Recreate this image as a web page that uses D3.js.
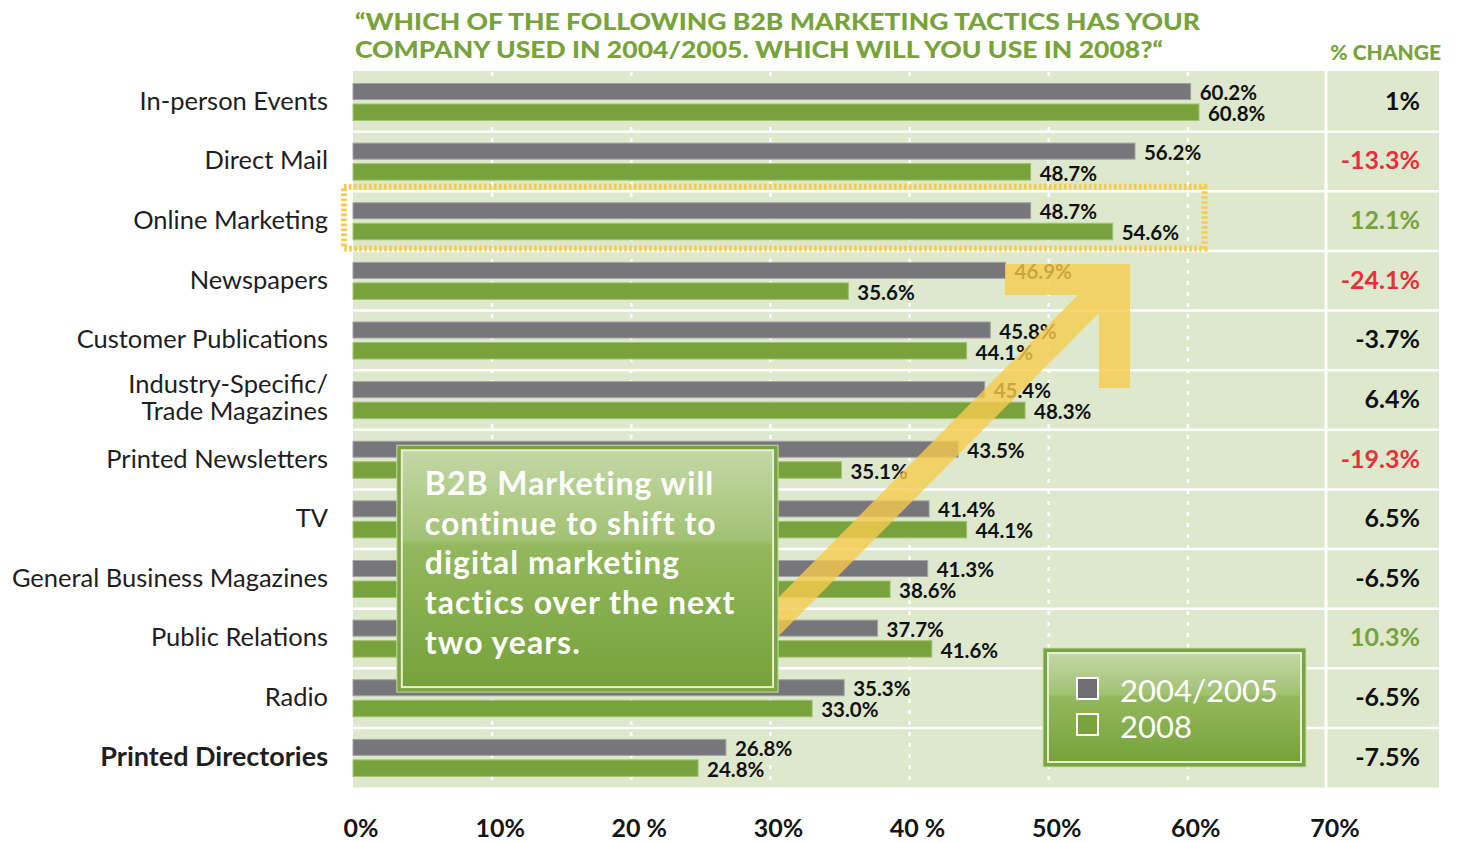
<!DOCTYPE html>
<html>
<head>
<meta charset="utf-8">
<script src="https://cdn.jsdelivr.net/npm/d3@7/dist/d3.min.js"></script>
<style>
  body { margin: 0; background: #fff; }
  svg { display: block; font-family: Lato, "Noto Sans", sans-serif; }
</style>
</head>
<body>
<div id="chart"></div>
<script>
// podaci
const categories = ["In-person Events", "Direct Mail", "Online Marketing", "Newspapers",
  "Customer Publications", "Industry-Specific/\nTrade Magazines", "Printed Newsletters", "TV",
  "General Business Magazines", "Public Relations", "Radio", "Printed Directories"];
const values2005 = [60.2, 56.2, 48.7, 46.9, 45.8, 45.4, 43.5, 41.4, 41.3, 37.7, 35.3, 26.8];
const values2008 = [60.8, 48.7, 54.6, 35.6, 44.1, 48.3, 35.1, 44.1, 38.6, 41.6, 33.0, 24.8];
const changeValues = [1, -13.3, 12.1, -24.1, -3.7, 6.4, -19.3, 6.5, -6.5, 10.3, -6.5, -7.5];
const changeLabels = ["1%", "-13.3%", "12.1%", "-24.1%", "-3.7%", "6.4%", "-19.3%", "6.5%", "-6.5%", "10.3%", "-6.5%", "-7.5%"];
const tickValues = [0, 10, 20, 30, 40, 50, 60, 70];
const tickLabels = ["0%", "10%", "20 %", "30%", "40 %", "50%", "60%", "70%"];
const seriesNames = ["2004/2005", "2008"];
const titleLines = ["\u201CWHICH OF THE FOLLOWING B2B MARKETING TACTICS HAS YOUR",
  "COMPANY USED IN 2004/2005. WHICH WILL YOU USE IN 2008?\u201C"];
const calloutLines = ["B2B Marketing will", "continue to shift to", "digital marketing",
  "tactics over the next", "two years."];

const rows = categories.map((c, i) => ({
  name: c, v1: values2005[i], v2: values2008[i], change: changeValues[i], changeLabel: changeLabels[i]
}));

// dimenzije
const dim = { width: 1457, height: 842, left: 353, right: 1327, colRight: 1439, top: 72, bottom: 787.5 };

const colors = { gray: "#76767b", grayEdge: "#a2a2a6", green: "#78a23c", greenEdge: "#a3c172",
  bg: "#dde8cd", title: "#78a33c", red: "#ea2e3b", yellow: "#f7cb4d" };

const svg = d3.select("#chart").append("svg")
  .attr("width", dim.width)
  .attr("height", dim.height);

const defs = svg.append("defs");
const grad = defs.append("linearGradient").attr("id", "boxGrad")
  .attr("x1", 0).attr("y1", 0).attr("x2", 0).attr("y2", 1);
grad.append("stop").attr("offset", "0%").attr("stop-color", "#c3d8a6");
grad.append("stop").attr("offset", "38%").attr("stop-color", "#a2c173");
grad.append("stop").attr("offset", "40%").attr("stop-color", "#93b85e");
grad.append("stop").attr("offset", "100%").attr("stop-color", "#76a23a");

// razmjeri
const x = d3.scaleLinear().domain([0, 70]).range([dim.left, dim.right]);
const y = d3.scaleBand().domain(categories).range([dim.top, dim.bottom]);
const rowPos = d3.scaleLinear().domain([0, categories.length]).range([dim.top, dim.bottom]);

// pozadina
svg.append("rect")
  .attr("x", dim.left).attr("y", dim.top - 1)
  .attr("width", dim.colRight - dim.left).attr("height", dim.bottom - dim.top + 1)
  .attr("fill", colors.bg);

// mreza
svg.append("g").selectAll("line")
  .data(tickValues.filter(t => t > 0 && t < 70))
  .join("line")
  .attr("x1", d => x(d)).attr("x2", d => x(d))
  .attr("y1", dim.top).attr("y2", dim.bottom)
  .attr("stroke", "#fff").attr("stroke-width", 2.5)
  .attr("stroke-dasharray", "4,7");

svg.append("g").selectAll("line")
  .data(d3.range(1, categories.length))
  .join("line")
  .attr("x1", dim.left).attr("x2", dim.colRight)
  .attr("y1", d => rowPos(d)).attr("y2", d => rowPos(d))
  .attr("stroke", "#fff").attr("stroke-width", 2.5);

svg.append("line")
  .attr("x1", x(70) - 1).attr("x2", x(70) - 1)
  .attr("y1", dim.top - 1).attr("y2", dim.bottom)
  .attr("stroke", "#fff").attr("stroke-width", 3);

// stupci
const bars = svg.append("g");
bars.selectAll(".b1").data(rows).join("rect")
  .attr("class", "b1")
  .attr("x", x(0)).attr("y", d => y(d.name) + 11.5)
  .attr("width", d => x(d.v1) - x(0)).attr("height", 16)
  .attr("fill", colors.gray).attr("stroke", colors.grayEdge).attr("stroke-width", 1);
bars.selectAll(".b2").data(rows).join("rect")
  .attr("class", "b2")
  .attr("x", x(0)).attr("y", d => y(d.name) + 32)
  .attr("width", d => x(d.v2) - x(0)).attr("height", 16.5)
  .attr("fill", colors.green).attr("stroke", colors.greenEdge).attr("stroke-width", 1);

// vrijednosti
const vals = svg.append("g")
  .style("font-size", "20.5px").style("font-weight", 700).attr("fill", "#111");
vals.selectAll(".l1").data(rows).join("text")
  .attr("x", d => x(d.v1) + 9).attr("y", d => y(d.name) + 28)
  .text(d => d.v1.toFixed(1) + "%");
vals.selectAll(".l2").data(rows).join("text")
  .attr("x", d => x(d.v2) + 9).attr("y", d => y(d.name) + 49)
  .text(d => d.v2.toFixed(1) + "%");

// oznaceni redak
const hl = "Online Marketing";
svg.append("rect")
  .attr("x", x(-0.65)).attr("y", y(hl) - 4.5)
  .attr("width", x(61.2) - x(-0.65)).attr("height", y.bandwidth() + 2)
  .attr("fill", "none").attr("stroke", colors.yellow)
  .attr("stroke-width", 6).attr("stroke-dasharray", "2.6,2.4");

// kategorije
const cats = svg.append("g").attr("fill", "#1e1e1e").attr("text-anchor", "end");
rows.forEach((d, i) => {
  const parts = d.name.split("\n");
  const last = i === rows.length - 1;
  const t = cats.append("text")
    .attr("x", 328)
    .style("font-size", last ? "27px" : "25.5px")
    .style("font-weight", last ? 700 : 400);
  const cy = y(d.name) + y.bandwidth() / 2;
  parts.forEach((p, k) => {
    t.append("tspan").attr("x", 328)
      .attr("y", parts.length > 1 ? cy - 7 + k * 27 : cy + 8)
      .text(p);
  });
});

// % promjena
svg.append("text")
  .attr("x", 1441).attr("y", 60).attr("text-anchor", "end")
  .attr("fill", colors.title).style("font-size", "21px").style("font-weight", 900)
  .text("% CHANGE");
svg.append("g").selectAll("text").data(rows).join("text")
  .attr("x", 1420).attr("y", d => y(d.name) + y.bandwidth() / 2 + 8)
  .attr("text-anchor", "end")
  .style("font-size", "25px").style("font-weight", 700)
  .attr("fill", d => d.change <= -10 ? colors.red : d.change >= 10 ? colors.title : "#111")
  .text(d => d.changeLabel);

// os x
const xAxis = svg.append("g")
  .attr("transform", `translate(0,${811})`)
  .call(d3.axisBottom(x).tickValues(tickValues).tickSize(0).tickPadding(8)
    .tickFormat((d, i) => tickLabels[i]));
xAxis.select(".domain").remove();
xAxis.selectAll("text")
  .attr("fill", "#151515")
  .attr("dx", "0.3em")
  .style("font-family", "Lato, sans-serif")
  .style("font-size", "25px").style("font-weight", 700);

// naslov
const titleWidths = [845, 808];
svg.append("g").selectAll("text").data(titleLines).join("text")
  .attr("x", 355).attr("y", (d, i) => 30 + i * 28)
  .attr("textLength", (d, i) => titleWidths[i]).attr("lengthAdjust", "spacingAndGlyphs")
  .attr("fill", colors.title).style("font-size", "23.5px").style("font-weight", 900)
  .text(d => d);

// strelica
const arrowPts = [[46.86, 3.22], [55.84, 3.22], [55.84, 5.30], [53.61, 5.30], [53.61, 4.04],
  [30.5, 9.48], [30.5, 8.83], [52.1, 3.74], [46.86, 3.74]];
svg.append("path")
  .attr("d", d3.line().x(p => x(p[0])).y(p => rowPos(p[1]))(arrowPts) + "Z")
  .attr("fill", colors.yellow).attr("opacity", 0.8);

// okvir s porukom
const box = { x0: 3.15, x1: 30.55, r0: 6.26, r1: 10.4 };
const bx = x(box.x0), by = rowPos(box.r0), bw = x(box.x1) - bx, bh = rowPos(box.r1) - by;
svg.append("rect").attr("x", bx).attr("y", by).attr("width", bw).attr("height", bh)
  .attr("fill", "#79a53e").attr("stroke", "#c9dbb0").attr("stroke-width", 1);
svg.append("rect").attr("x", bx + 5).attr("y", by + 5).attr("width", bw - 10).attr("height", bh - 10)
  .attr("fill", "url(#boxGrad)").attr("stroke", "#e6eedb").attr("stroke-width", 2);
svg.append("g").selectAll("text").data(calloutLines).join("text")
  .attr("x", bx + 28).attr("y", (d, i) => by + 50 + i * 39.6)
  .attr("fill", "#fff").style("font-size", "32px").style("font-weight", 700)
  .style("letter-spacing", "1px")
  .text(d => d);

// legenda
const lg = svg.append("g").attr("transform", "translate(1043,648)");
lg.append("rect").attr("width", 263).attr("height", 119)
  .attr("fill", "#79a53e").attr("stroke", "#c9dbb0").attr("stroke-width", 1);
lg.append("rect").attr("x", 5).attr("y", 5).attr("width", 253).attr("height", 109)
  .attr("fill", "url(#boxGrad)").attr("stroke", "#e6eedb").attr("stroke-width", 2);
const lgItems = lg.selectAll(".item").data(seriesNames).join("g")
  .attr("transform", (d, i) => `translate(34,${30 + i * 36})`);
lgItems.append("rect").attr("width", 21).attr("height", 21)
  .attr("fill", (d, i) => i === 0 ? "#6e6e73" : colors.green)
  .attr("stroke", "#fff").attr("stroke-width", 2);
lgItems.append("text").attr("x", 43).attr("y", 24)
  .attr("fill", "#fff").style("font-size", "31px").style("font-weight", 400)
  .text(d => d);
</script>
</body>
</html>
